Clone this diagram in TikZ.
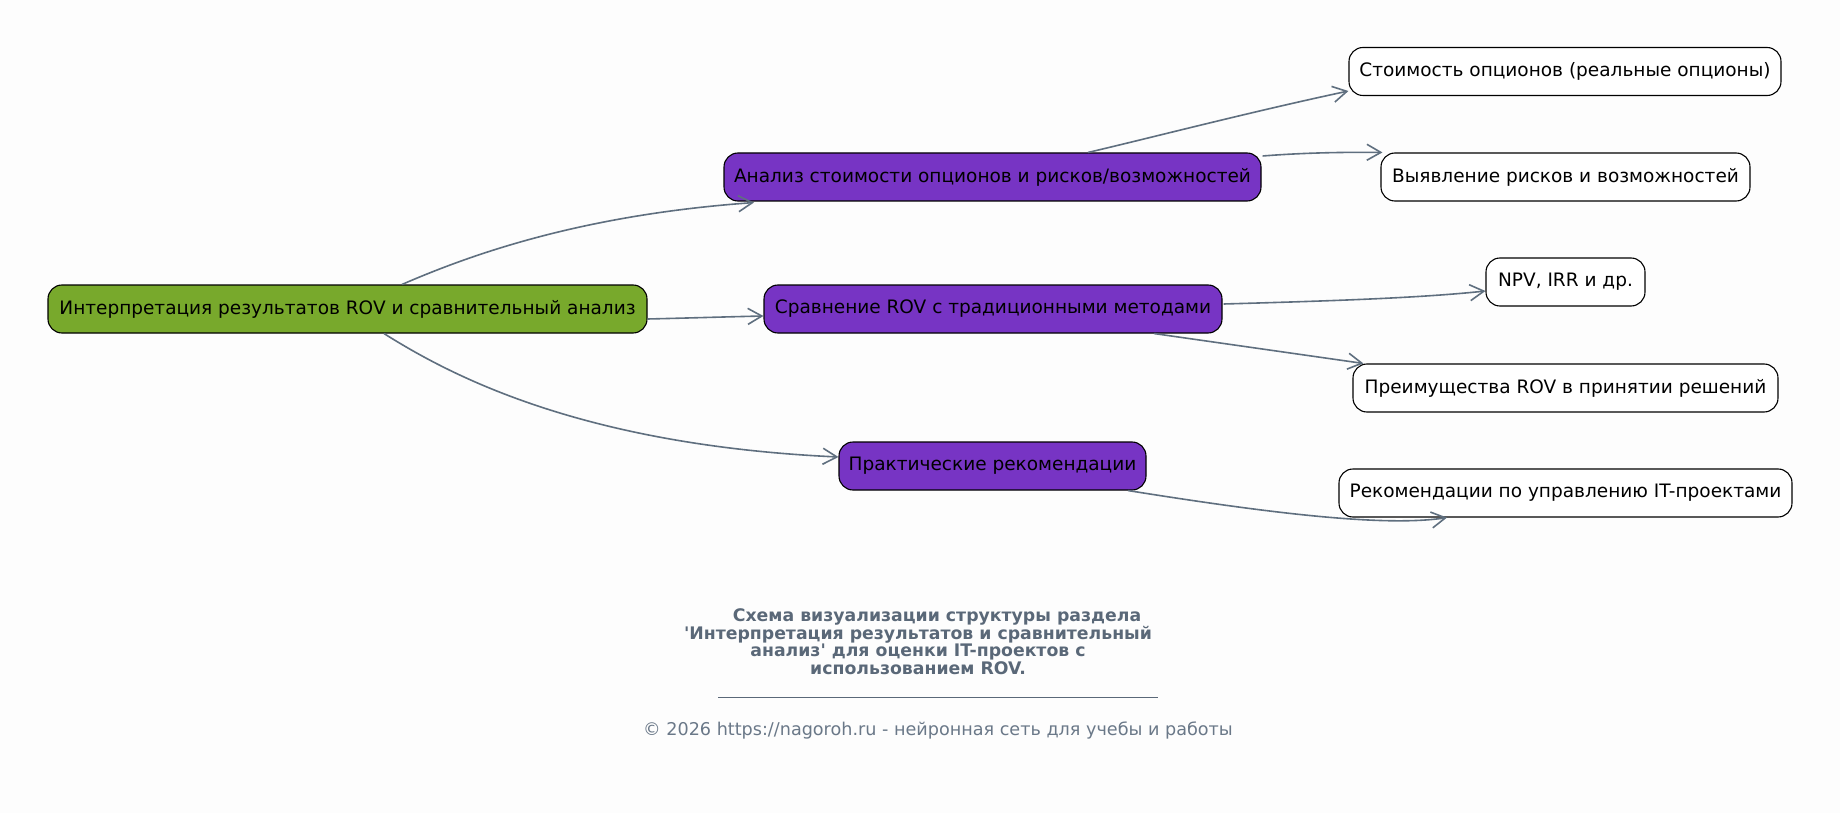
\documentclass[tikz,border=0pt]{standalone}
\usepackage{fontspec}
\setmainfont{DejaVu Sans}
\usetikzlibrary{arrows.meta,calc}
\definecolor{bgc}{HTML}{FDFDFD}
\definecolor{rootc}{HTML}{78A92C}
\definecolor{midc}{HTML}{7734C4}
\definecolor{edgec}{HTML}{5F6F7F}
\definecolor{capc}{HTML}{5A6878}
\definecolor{footc}{HTML}{6A7888}
\tikzset{
  box/.style={draw=black, line width=1.1pt, rounded corners=14pt, minimum height=48pt,
     inner xsep=0pt, inner ysep=0pt, text=black, font=\fontsize{18.5}{22}\selectfont},
  rootbox/.style={box, fill=rootc},
  midbox/.style={box, fill=midc},
  leafbox/.style={box, fill=white},
  conn/.style={draw=edgec, line width=1.6pt, -{Straight Barb[length=14pt,width=16pt]}},
}
\begin{document}
\begin{tikzpicture}[x=1pt,y=-1pt]
\fill[bgc] (0,0) rectangle (1840,813);
\useasboundingbox (0,0) rectangle (1840,813);

\node[rootbox, minimum width=599pt] (root) at (347.5,309) {Интерпретация результатов ROV и сравнительный анализ};
\node[midbox, minimum width=537pt] (A) at (992.5,177) {Анализ стоимости опционов и рисков/возможностей};
\node[midbox, minimum width=458pt] (B) at (993,309) {Сравнение ROV с традиционными методами};
\node[midbox, minimum width=307pt] (C) at (992.5,466) {Практические рекомендации};
\node[leafbox, minimum width=432pt] (A1) at (1565,71.5) {Стоимость опционов (реальные опционы)};
\node[leafbox, minimum width=369pt] (A2) at (1565.5,177) {Выявление рисков и возможностей};
\node[leafbox, minimum width=159pt] (B1) at (1565.5,282) {NPV, IRR и др.};
\node[leafbox, minimum width=425pt] (B2) at (1565.5,388) {Преимущества ROV в принятии решений};
\node[leafbox, minimum width=453pt] (C1) at (1565.5,493) {Рекомендации по управлению IT-проектами};

\draw[conn] ($(root.north)+(54.5,0)$) .. controls (470,255) and (580,215) .. ($(A.south)+(-238.5,1)$);
\draw[conn] ($(root.east)+(0,10)$) .. controls (690,318) and (720,317) .. ($(B.west)+(0,7)$);
\draw[conn] ($(root.south)+(36.5,0)$) .. controls (450,375) and (580,445) .. ($(C.west)+(0,-9)$);
\draw[conn] ($(A.north)+(95.5,0)$) .. controls (1150,138) and (1250,112) .. ($(A1.west)+(0,19.5)$);
\draw[conn] ($(A.east)+(1,-21)$) .. controls (1300,153) and (1340,152) .. ($(A2.north west)+(2,0)$);
\draw[conn] ($(B.east)+(1,-5)$) .. controls (1330,301) and (1420,298) .. ($(B1.west)+(0,9)$);
\draw[conn] ($(B.south)+(161,0)$) -- ($(B2.north west)+(11,0)$);
\draw[conn] ($(C.south)+(135.5,0)$) .. controls (1250,510) and (1380,528) .. ($(C1.south)+(-118.5,0)$);

\node[anchor=north, align=center, text=capc, font=\fontsize{17.3}{17.8}\selectfont\bfseries] (cap) at (918,605)
 {\hspace*{38pt}Схема визуализации структуры раздела\\
  \textquotesingle Интерпретация результатов и сравнительный\\
  анализ\textquotesingle{} для оценки IT-проектов с\\
  использованием ROV.};
\coordinate (rl) at (718,697);
\coordinate (rr) at (1158,697);
\draw[capc, line width=0.9pt] (rl) -- (rr);
\node[text=footc, font=\fontsize{17.6}{20}\selectfont] (foot) at (938,730) {© 2026 https://nagoroh.ru - нейронная сеть для учебы и работы};
\end{tikzpicture}
\end{document}
